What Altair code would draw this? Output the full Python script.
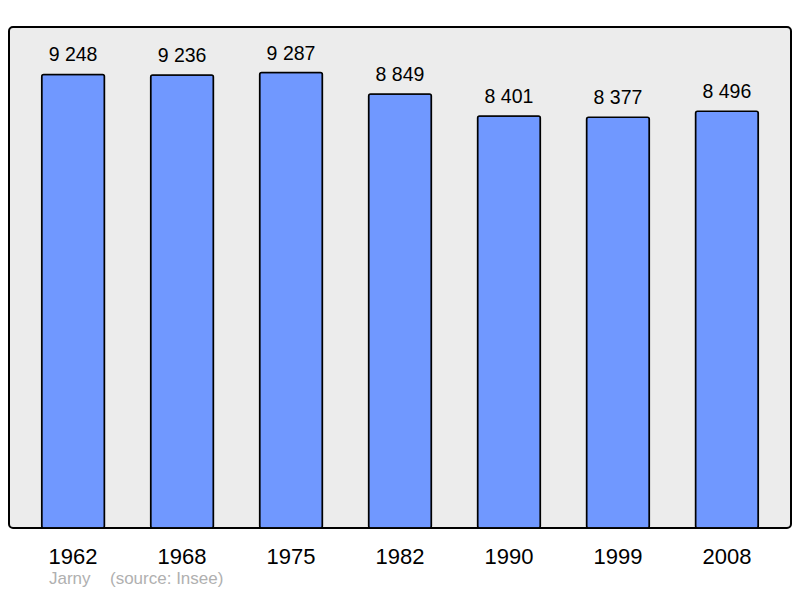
import altair as alt
import pandas as pd

years = ["1962", "1968", "1975", "1982", "1990", "1999", "2008"]
population = [9248, 9236, 9287, 8849, 8401, 8377, 8496]
town = "Jarny"
source = "(source: Insee)"

df = pd.DataFrame({"year": years, "pop": population})
df["label"] = [f"{v:,}".replace(",", " ") for v in population]

ymax = max(population) * 1.1

x = alt.X("year:N", sort=years,
          scale=alt.Scale(paddingInner=0.424, paddingOuter=0.30),
          axis=alt.Axis(title=None, labelAngle=0, labelFontSize=22, labelColor="black",
                        labelFont="Liberation Sans", ticks=False, domain=False,
                        labelPadding=18))
y = alt.Y("pop:Q", scale=alt.Scale(domain=[0, ymax], nice=False), axis=None)

bars = alt.Chart(df).mark_bar(color="#7098ff", stroke="black", strokeWidth=1.5,
                              cornerRadius=2).encode(x=x, y=y)
labels = alt.Chart(df).mark_text(baseline="bottom", dy=-9, fontSize=19.5,
                                 font="Liberation Sans", color="black").encode(
    x=x, y=y, text="label:N")

src = pd.DataFrame({"t": [town, source], "px": [40, 101]})
srctext = alt.Chart(src).mark_text(align="left", baseline="alphabetic", fontSize=17,
                                   font="Liberation Sans", color="#b0b0b0").encode(
    x=alt.X("px:Q", scale=None), y=alt.value(557), text="t:N")

chart = alt.layer(bars, labels, srctext).properties(
    width=782, height=501,
    autosize=alt.AutoSizeParams(type="none"),
    padding={"left": 1, "top": 19, "right": 1, "bottom": 61},
).configure_view(
    fill="#ececec", stroke="black", strokeWidth=2, cornerRadius=4
)

chart.save("out.html", embed_options={"renderer": "svg", "actions": False})
